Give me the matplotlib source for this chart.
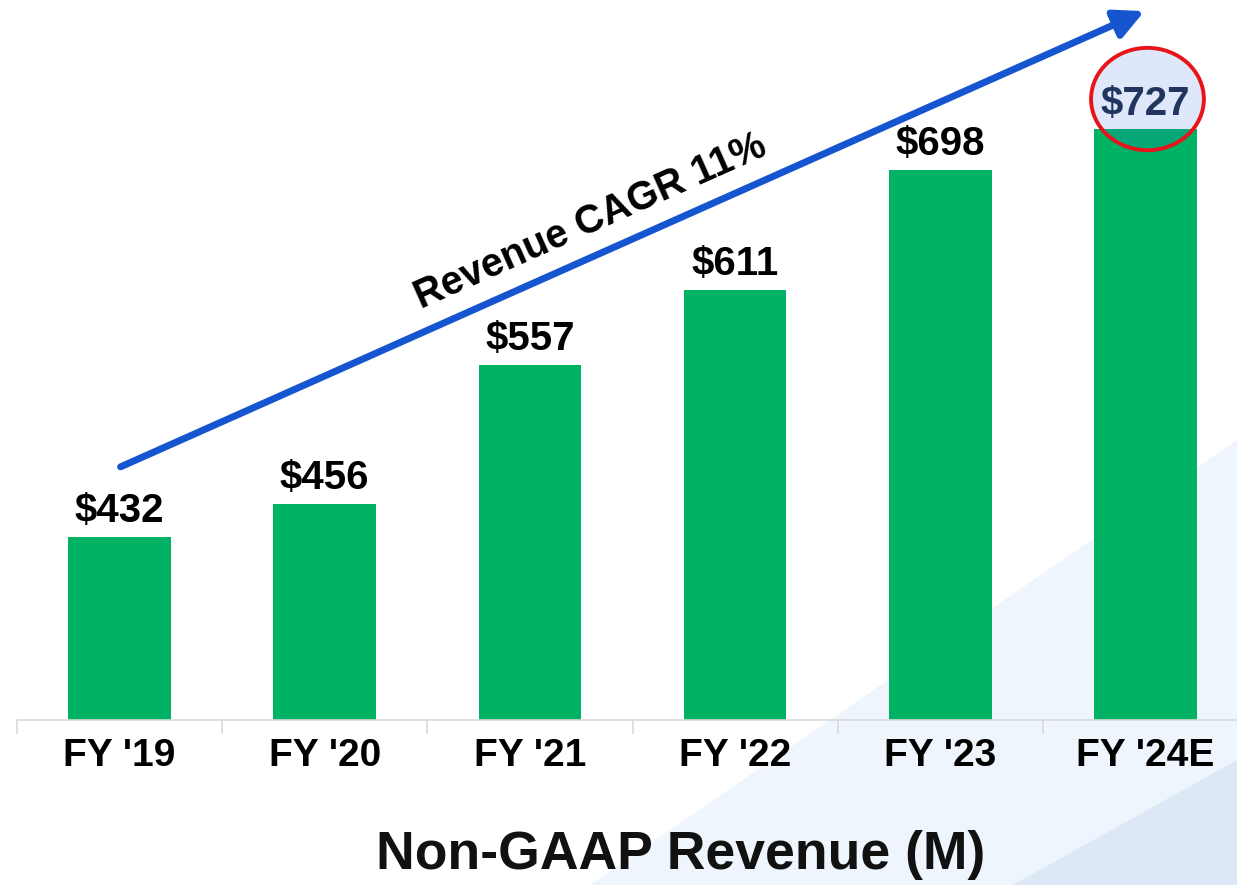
import numpy as np
import matplotlib.pyplot as plt
from matplotlib.patches import Ellipse, Polygon, FancyArrowPatch

plt.rcParams['font.family'] = ['Liberation Sans', 'DejaVu Sans']

years = ["FY '19", "FY '20", "FY '21", "FY '22", "FY '23", "FY '24E"]
revenue = [432, 456, 557, 611, 698, 727]
labels = ['$%d' % v for v in revenue]

W, H = 1237, 885
fig = plt.figure(figsize=(W / 100, H / 100), dpi=100)

# light blue background shapes, bottom right (pixel coords, y down)
bg = fig.add_axes([0, 0, 1, 1], zorder=-1)
bg.set_xlim(0, W)
bg.set_ylim(H, 0)
bg.axis('off')
bg.add_patch(Polygon([(590, H), (W, 440), (W, H)], closed=True, facecolor='#EEF5FC', edgecolor='none'))
bg.add_patch(Polygon([(1013, H), (W, 760), (W, H)], closed=True, facecolor='#DCE8F6', edgecolor='none'))

ax = fig.add_axes([17 / W, 1 - 720 / H, 1231 / W, 720 / H])
ax.patch.set_alpha(0)
x = np.arange(len(years))
bars = ax.bar(x, revenue, width=0.5, color='#00B264', zorder=2)
ax.set_xlim(-0.5, 5.5)
ax.set_ylim(300, 300 + 720 / 1.383)

lbl = ax.bar_label(bars, labels=labels, padding=5, fontsize=29, fontweight='bold', color='black')
lbl[-1].set_color('#1F2A44')

# highlight circle on the estimate
ax.add_patch(Ellipse((x[-1] + 0.01, revenue[-1] + 22), 0.55, 74, facecolor=(0.2, 0.45, 0.9, 0.16),
                     edgecolor='#E8141A', lw=2.8, zorder=3))

for s in ['top', 'right', 'left']:
    ax.spines[s].set_visible(False)
ax.spines['bottom'].set_color('#D9D9D9')
ax.spines['bottom'].set_linewidth(1.2)
ax.set_yticks([])
ax.set_xticks(x)
ax.set_xticklabels(years, fontsize=28, fontweight='bold')
ax.tick_params(axis='x', which='major', length=0, pad=13)
ax.set_xticks(np.arange(-0.5, 6, 1), minor=True)
ax.tick_params(axis='x', which='minor', length=10, color='#D9D9D9', width=1.2)

# CAGR arrow
bg.add_patch(FancyArrowPatch((118, 468), (1147, 10), arrowstyle='-|>', mutation_scale=44,
                             lw=5, color='#1556D0'))
fig.text(590 / W, 1 - 222 / H, 'Revenue CAGR 11%', rotation=24, fontsize=28.5, fontweight='bold',
         ha='center', va='center', rotation_mode='anchor')

fig.text(681 / W, 1 - 855 / H, 'Non-GAAP Revenue (M)', fontsize=38.5, fontweight='bold',
         ha='center', va='center', color='#111111')

fig.savefig('out.png', dpi=100)
